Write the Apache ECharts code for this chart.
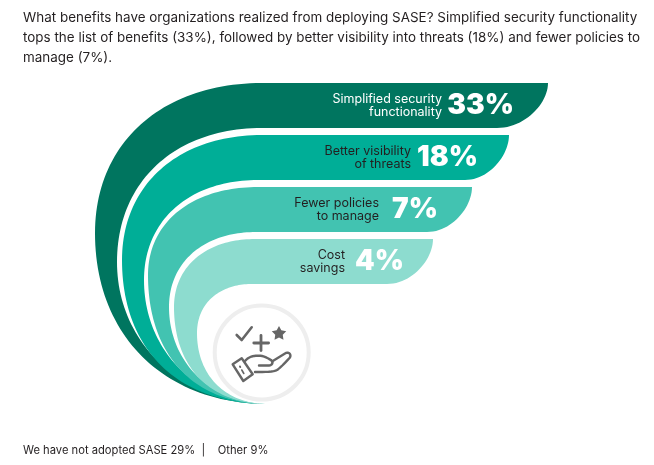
<!DOCTYPE html>
<html><head><meta charset="utf-8">
<style>html,body{margin:0;padding:0;background:#fff;overflow:hidden}#c{width:654px;height:465px}</style>
<script src="https://cdn.jsdelivr.net/npm/echarts@6/dist/echarts.min.js"></script>
</head><body><div id="c"></div>
<script>
const categories = ['Simplified security\nfunctionality','Better visibility\nof threats','Fewer policies\nto manage','Cost\nsavings'];
const values = [33,18,7,4];
const headline = 'What benefits have organizations realized from deploying SASE? Simplified security functionality\ntops the list of benefits (33%), followed by better visibility into threats (18%) and fewer policies to\nmanage (7%).';
const footnote = 'We have not adopted SASE 29%  |    Other 9%';

const FONT = 'Inter, "Noto Sans", sans-serif';
const INK = '#231f20';
const bandColors = ['#00755f','#00ae97','#42c3b1','#8ddccf'];
const labelColors = ['#ffffff',INK,INK,INK];
const TIP = [268,404];
const shape = {
  right:[548,509,472,433], rightInner:[497,465,427,387],
  outerLeft:[95,122,148,174], outerMid:[233,260,275,307],
  innerLeft:[117,144,169,197], innerMid:[262,280,307,333],
  outerFlat:[262,262,258,255], innerFlat:[262,258,256,252],
  labelRight:[442,411,379,345], pctRight:[514,478,438,404]
};
function cubic(a,b,c,d,n){
  const out=[];
  for(let k=1;k<=n;k++){const t=k/n,u=1-t;
    out.push([u*u*u*a[0]+3*u*u*t*b[0]+3*u*t*t*c[0]+t*t*t*d[0],
              u*u*u*a[1]+3*u*u*t*b[1]+3*u*t*t*c[1]+t*t*t*d[1]]);}
  return out;
}
function bandPoints(i,T,B){
  const K=0.6, Ko=i?0.62:0.6, Ki=i<3?0.57:0.6, R=shape.right[i], Xc=shape.rightInner[i];
  const Lo=shape.outerLeft[i],Mo=shape.outerMid[i],Li=shape.innerLeft[i],Mi=shape.innerMid[i];
  const Fo=shape.outerFlat[i],Fi=shape.innerFlat[i];
  let p=[[R,T],[Fo,T]];
  p=p.concat(cubic([Fo,T],[Fo-K*(Fo-Lo),T],[Lo,Mo-K*(Mo-T)],[Lo,Mo],50));
  p=p.concat(cubic([Lo,Mo],[Lo,Mo+Ko*(TIP[1]-Mo)],[TIP[0]-Ko*(TIP[0]-Lo),TIP[1]],TIP,50));
  p=p.concat(cubic(TIP,[TIP[0]-Ki*(TIP[0]-Li),TIP[1]],[Li,Mi+Ki*(TIP[1]-Mi)],[Li,Mi],50));
  p=p.concat(cubic([Li,Mi],[Li,Mi-K*(Mi-B)],[Fi-K*(Fi-Li),B],[Fi,B],50));
  p.push([Xc,B]);
  p=p.concat(cubic([Xc,B],[Xc+0.55*(R-Xc),B],[R,B-0.55*(B-T)],[R,T],24));
  return p;
}
function renderBand(params,api){
  const i=api.value(0), v=api.value(1);
  const cy=api.coord([0,i])[1], h=api.size([0,1])[1]*0.865;
  const T=cy-h/2,B=cy+h/2;
  return {type:'group',children:[
    {type:'polygon',shape:{points:bandPoints(i,T,B)},style:{fill:bandColors[i]}},
    {type:'text',style:{x:shape.labelRight[i],y:cy,text:categories[i],align:'right',verticalAlign:'middle',
      fill:labelColors[i],lineHeight:13,fontFamily:FONT,fontSize:12.5,fontWeight:400}},
    {type:'text',style:{x:shape.pctRight[i],y:cy,text:v+'%',align:'right',verticalAlign:'middle',
      fill:'#ffffff',fontFamily:FONT,fontSize:28,fontWeight:900}}
  ]};
}
const ICON='#666666';
function line(points,w){return {type:'polyline',shape:{points},style:{stroke:ICON,fill:null,lineWidth:w||2.4,lineCap:'round',lineJoin:'round'},silent:true};}
function star(cx,cy,r){const p=[];for(let k=0;k<10;k++){const a=-Math.PI/2+k*Math.PI/5,q=k%2?r*0.52:r;p.push([cx+q*Math.cos(a),cy+q*Math.sin(a)]);}return p;}
const handTop=[[245,361]].concat(
  cubic([245,361],[249,356],[256,355],[262,356],12),
  cubic([262,356],[266,357],[269,359],[271,360],8),
  cubic([271,360],[274,362],[272,365.5],[269,365.5],8),[[259,365.5]]);
const handBottom=[[272,361.5],[285,353.5]].concat(
  cubic([285,353.5],[289,351],[292,355],[289.5,358],10),
  cubic([289.5,358],[284,364],[280,368],[277,370],8),
  cubic([277,370],[274,372],[265,372],[255,372],8));
const chart=echarts.init(document.getElementById('c'),null,{renderer:'canvas'});
chart.setOption({
  animation:false,
  backgroundColor:'#ffffff',
  title:[
    {text:headline,left:23,top:8,padding:0,textStyle:{fontFamily:FONT,fontSize:13.45,fontWeight:400,color:INK,lineHeight:20}},
    {text:footnote,left:23,top:445,padding:0,textStyle:{fontFamily:FONT,fontSize:11.2,fontWeight:400,color:INK}}
  ],
  grid:{left:0,right:0,top:79.5,height:208},
  xAxis:{type:'value',show:false,min:0,max:40},
  yAxis:{type:'category',show:false,inverse:true,data:categories},
  series:[{type:'custom',renderItem:renderBand,silent:true,
    encode:{x:1,y:0},
    data:values.map((v,i)=>[i,v])}],
  graphic:[{type:'group',silent:true,z:10,children:[
    {type:'circle',shape:{cx:261.7,cy:352.5,r:47},style:{fill:'#ffffff',stroke:'#eeeeee',lineWidth:4}},
    line([[236.7,335],[241.7,340],[251.7,327.3]],2.6),
    line([[253.8,343],[268.6,343]],2.8),
    line([[261,335.5],[261,350.5]],2.8),
    {type:'polygon',shape:{points:star(279,333.5,7.6)},style:{fill:ICON}},
    {type:'polygon',shape:{points:[[232.7,364.3],[241.7,358.3],[252.7,374.3],[243.3,381]]},style:{stroke:ICON,fill:null,lineWidth:2.4,lineJoin:'round'}},
    line([[240,366.5],[240.2,367]],2),
    line([[241.8,370],[243.8,373.5]],1.6),
    line(handTop,2.4),
    line(handBottom,2.4)
  ]}]
});
</script></body></html>
